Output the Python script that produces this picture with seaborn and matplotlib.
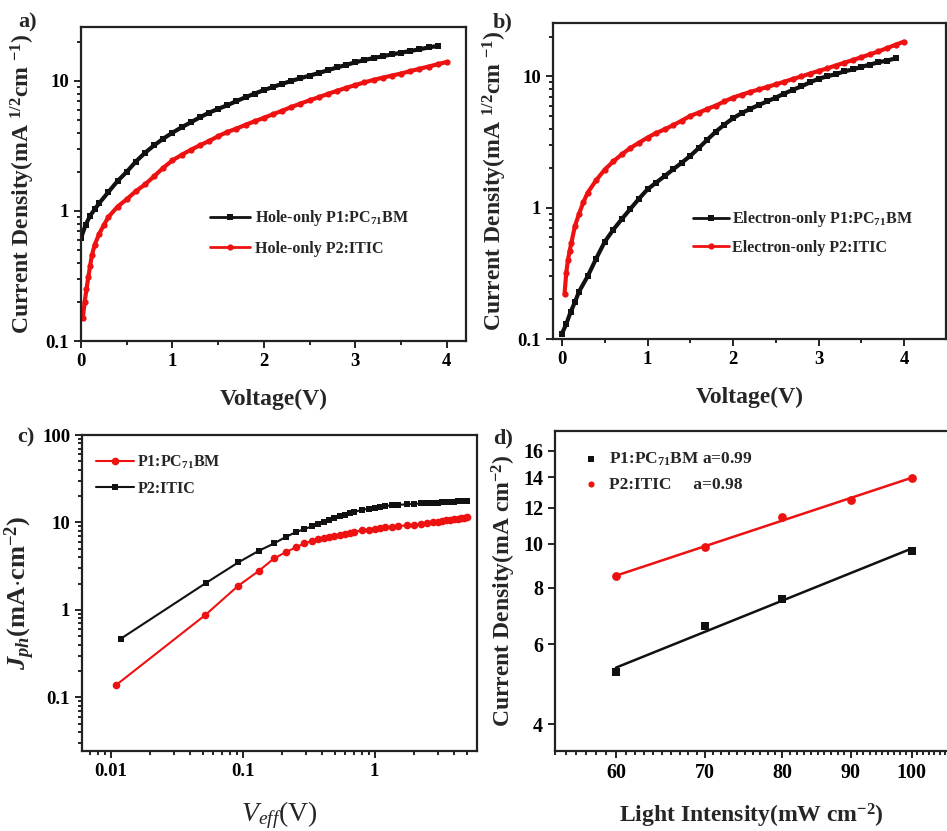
import numpy as np
import pandas as pd
import matplotlib
matplotlib.use("Agg")
import matplotlib.pyplot as plt
import seaborn as sns
from matplotlib.ticker import FixedLocator, NullFormatter, FuncFormatter, LogLocator, NullLocator

# ---------------- data ----------------
# (a) hole-only
a_v_p1 = [0, 0.05, 0.1, 0.15, 0.2, 0.3, 0.4, 0.5, 0.6, 0.7, 0.8, 0.9, 1.0, 1.1, 1.2, 1.3, 1.4,
          1.5, 1.6, 1.7, 1.8, 1.9, 2.0, 2.1, 2.2, 2.3, 2.4, 2.5, 2.6, 2.7, 2.8, 2.9, 3.0, 3.1,
          3.2, 3.3, 3.4, 3.5, 3.6, 3.7, 3.8, 3.9]
a_j_p1 = [0.62, 0.78, 0.92, 1.03, 1.15, 1.4, 1.7, 2.0, 2.4, 2.8, 3.2, 3.6, 4.0, 4.4, 4.8, 5.25,
          5.7, 6.1, 6.5, 7.0, 7.5, 8.0, 8.5, 9.0, 9.5, 10.0, 10.5, 11.0, 11.5, 12.1, 12.7, 13.3,
          13.9, 14.5, 15.0, 15.5, 16.0, 16.5, 17.0, 17.5, 18.1, 18.6]
a_v_p2 = [0.02, 0.04, 0.06, 0.08, 0.1, 0.12, 0.15, 0.2, 0.25, 0.3, 0.4, 0.5, 0.6, 0.7, 0.8, 0.9,
          1.0, 1.1, 1.2, 1.3, 1.4, 1.5, 1.6, 1.7, 1.8, 1.9, 2.0, 2.1, 2.2, 2.3, 2.4, 2.5, 2.6,
          2.7, 2.8, 2.9, 3.0, 3.1, 3.2, 3.3, 3.4, 3.5, 3.6, 3.7, 3.8, 3.9, 4.0]
a_j_p2 = [0.15, 0.2, 0.25, 0.31, 0.38, 0.46, 0.55, 0.67, 0.78, 0.9, 1.08, 1.23, 1.42, 1.6, 1.85,
          2.15, 2.45, 2.7, 2.95, 3.2, 3.45, 3.76, 4.05, 4.3, 4.6, 4.9, 5.2, 5.55, 5.9, 6.3, 6.7,
          7.1, 7.5, 7.95, 8.4, 8.85, 9.3, 9.75, 10.2, 10.6, 11.0, 11.4, 11.9, 12.4, 12.9, 13.45, 14.0]

# (b) electron-only
b_v_p1 = [0, 0.05, 0.1, 0.15, 0.2, 0.3, 0.4, 0.5, 0.6, 0.7, 0.8, 0.9, 1.0, 1.1, 1.2, 1.3, 1.4,
          1.5, 1.6, 1.7, 1.8, 1.9, 2.0, 2.1, 2.2, 2.3, 2.4, 2.5, 2.6, 2.7, 2.8, 2.9, 3.0, 3.1,
          3.2, 3.3, 3.4, 3.5, 3.6, 3.7, 3.8, 3.9]
b_j_p1 = [0.11, 0.13, 0.16, 0.19, 0.23, 0.3, 0.41, 0.55, 0.68, 0.82, 0.98, 1.17, 1.38, 1.55,
          1.74, 1.96, 2.2, 2.48, 2.85, 3.3, 3.8, 4.3, 4.8, 5.25, 5.65, 6.05, 6.45, 6.9, 7.4,
          7.9, 8.4, 9.0, 9.6, 10.0, 10.4, 10.9, 11.3, 11.8, 12.3, 12.8, 13.2, 13.7]
b_v_p2 = [0.03, 0.05, 0.07, 0.09, 0.11, 0.15, 0.2, 0.25, 0.3, 0.4, 0.5, 0.6, 0.7, 0.8, 0.9, 1.0,
          1.1, 1.2, 1.3, 1.4, 1.5, 1.6, 1.7, 1.8, 1.9, 2.0, 2.1, 2.2, 2.3, 2.4, 2.5, 2.6, 2.7,
          2.8, 2.9, 3.0, 3.1, 3.2, 3.3, 3.4, 3.5, 3.6, 3.7, 3.8, 3.9, 4.0]
b_j_p2 = [0.22, 0.32, 0.40, 0.47, 0.54, 0.72, 0.9, 1.1, 1.3, 1.62, 1.95, 2.25, 2.55, 2.85, 3.12,
          3.42, 3.7, 3.95, 4.25, 4.6, 5.0, 5.3, 5.65, 6.0, 6.45, 6.9, 7.25, 7.6, 7.95, 8.3, 8.7,
          9.1, 9.55, 10.0, 10.5, 11.0, 11.5, 12.1, 12.7, 13.3, 14.0, 14.7, 15.5, 16.4, 17.4, 18.4]

# (c) photocurrent vs effective voltage
c_v_p1 = [0.011, 0.052, 0.092, 0.133, 0.173, 0.213, 0.253, 0.293, 0.333, 0.373, 0.413, 0.453,
          0.493, 0.55, 0.6, 0.65, 0.7, 0.8, 0.9, 1.0, 1.1, 1.2, 1.35, 1.5, 1.75, 2.0, 2.25,
          2.5, 2.75, 3.0, 3.25, 3.5, 3.75, 4.0, 4.25, 4.5, 4.75, 5.0]
c_j_p1 = [0.138, 0.87, 1.87, 2.8, 3.88, 4.58, 5.18, 5.75, 6.1, 6.4, 6.65, 6.85, 7.0, 7.2, 7.4,
          7.6, 7.8, 8.1, 8.3, 8.5, 8.65, 8.8, 8.95, 9.1, 9.25, 9.4, 9.6, 9.8, 10.0, 10.2, 10.4,
          10.6, 10.75, 10.9, 11.05, 11.2, 11.3, 11.4]
c_v_p2 = [0.012, 0.053, 0.093, 0.133, 0.173, 0.213, 0.253, 0.293, 0.333, 0.373, 0.413, 0.453,
          0.493, 0.55, 0.6, 0.65, 0.7, 0.8, 0.9, 1.0, 1.1, 1.2, 1.35, 1.5, 1.75, 2.0, 2.25,
          2.5, 2.75, 3.0, 3.25, 3.5, 3.75, 4.0, 4.25, 4.5, 4.75, 5.0]
c_j_p2 = [0.47, 2.04, 3.5, 4.75, 5.75, 6.84, 7.74, 8.38, 9.0, 9.55, 10.2, 10.7, 11.2, 11.8, 12.3,
          12.8, 13.2, 13.9, 14.4, 14.8, 15.1, 15.4, 15.7, 15.9, 16.1, 16.3, 16.5, 16.6, 16.75,
          16.9, 17.0, 17.1, 17.2, 17.3, 17.4, 17.5, 17.55, 17.6]

# (d) Jsc vs light intensity
d_p1_int = [60, 70, 80, 100]
d_p1_j = [5.2, 6.59, 7.54, 9.62]
d_p2_int = [60, 70, 80, 90, 100]
d_p2_j = [8.47, 9.84, 11.43, 12.45, 13.97]

a_ticks_y = [0.1, 1, 10]
c_ticks_x = [0.01, 0.1, 1]
c_ticks_y = [0.1, 1, 10, 100]
d_ticks_x = [60, 70, 80, 90, 100]
d_ticks_y = [4, 6, 8, 10, 12, 14, 16]

# ---------------- style ----------------
sns.set_style("ticks")
plt.rcParams.update({
    "font.family": ["Liberation Serif", "DejaVu Serif"],
    "font.weight": "bold",
    "axes.labelweight": "bold",
    "mathtext.fontset": "custom",
    "mathtext.rm": "Liberation Serif:bold",
    "mathtext.bf": "Liberation Serif:bold",
    "mathtext.it": "Liberation Serif:italic:bold",
    "mathtext.sf": "Liberation Serif:style=italic:weight=normal",
    "mathtext.default": "rm",
    "axes.edgecolor": "#222222",
    "axes.linewidth": 1.6,
    "xtick.color": "#222222",
    "ytick.color": "#222222",
    "xtick.labelcolor": "black",
    "ytick.labelcolor": "black",
})

RED = "#ee1111"
BLK = "#111111"
TICK_FS = 13.5
LAB_FS = 17
LEG_FS = 11.5

fig = plt.figure(figsize=(9.47, 8.31), dpi=100)
W, H = 947.0, 831.0


def add_ax(l, t, r, b):
    return fig.add_axes([l / W, 1 - b / H, (r - l) / W, (b - t) / H])


axA = add_ax(81, 27, 466, 341)
axB = add_ax(553, 23, 946, 339)
axC = add_ax(82, 435, 477, 751)
axD = add_ax(555, 431, 948, 751)

fmt = FuncFormatter(lambda v, p: f"{v:g}")


def style_ax(ax):
    ax.tick_params(which="both", direction="out", top=False, right=False,
                   labelsize=TICK_FS, width=1.4)
    ax.tick_params(which="major", length=5)
    ax.tick_params(which="minor", length=3)
    for lab in ax.get_xticklabels() + ax.get_yticklabels():
        lab.set_fontweight("bold")
    for s in ax.spines.values():
        s.set_visible(True)


def curve(ax, x, y, color, marker, label, ms=4, lw=2.0):
    df = pd.DataFrame({"x": x, "y": y})
    sns.lineplot(data=df, x="x", y="y", ax=ax, color=color, marker=marker,
                 markersize=ms, markeredgewidth=0, linewidth=lw, label=label,
                 estimator=None, sort=False)


# ---- (a)
axA.set_yscale("log")
curve(axA, a_v_p1, a_j_p1, BLK, "s", r"Hole-only P1:PC$_{71}$BM", ms=4, lw=3)
curve(axA, a_v_p2, a_j_p2, RED, "o", r"Hole-only P2:ITIC", ms=4.5, lw=3)
axA.set_xlim(0, 4.21)
axA.set_ylim(0.1, 26)
axA.xaxis.set_major_locator(FixedLocator([0, 1, 2, 3, 4]))
axA.xaxis.set_minor_locator(FixedLocator([0.5, 1.5, 2.5, 3.5]))
axA.yaxis.set_major_locator(FixedLocator(a_ticks_y))
axA.yaxis.set_minor_locator(LogLocator(subs=np.arange(2, 10)))
axA.yaxis.set_major_formatter(fmt)
axA.yaxis.set_minor_formatter(NullFormatter())
axA.set_xlabel("Voltage(V)", fontsize=LAB_FS, labelpad=14)
axA.set_ylabel(r"Current Density(mA $^{1/2}$cm $^{-1}$)", fontsize=LAB_FS, labelpad=6)
style_ax(axA)
legA = axA.legend(loc="center left", bbox_to_anchor=(0.335, 0.345), frameon=False,
                  fontsize=LEG_FS, handlelength=2.5, handletextpad=0.3, labelspacing=0.8,
                  borderpad=0, borderaxespad=0)
for h in legA.legend_handles:
    h.set_linewidth(2)

# ---- (b)
axB.set_yscale("log")
curve(axB, b_v_p1, b_j_p1, BLK, "s", r"Electron-only P1:PC$_{71}$BM", ms=4, lw=3)
curve(axB, b_v_p2, b_j_p2, RED, "o", r"Electron-only P2:ITIC", ms=4.5, lw=3)
axB.set_xlim(-0.105, 4.49)
axB.set_ylim(0.1, 25.5)
axB.xaxis.set_major_locator(FixedLocator([0, 1, 2, 3, 4]))
axB.xaxis.set_minor_locator(FixedLocator([0.5, 1.5, 2.5, 3.5]))
axB.yaxis.set_major_locator(FixedLocator(a_ticks_y))
axB.yaxis.set_minor_locator(LogLocator(subs=np.arange(2, 10)))
axB.yaxis.set_major_formatter(fmt)
axB.yaxis.set_minor_formatter(NullFormatter())
axB.set_xlabel("Voltage(V)", fontsize=LAB_FS, labelpad=14)
axB.set_ylabel(r"Current Density(mA $^{1/2}$cm $^{-1}$)", fontsize=LAB_FS, labelpad=6)
style_ax(axB)
legB = axB.legend(loc="center left", bbox_to_anchor=(0.355, 0.337), frameon=False,
                  fontsize=LEG_FS, handlelength=2.3, handletextpad=0.2, labelspacing=0.65,
                  borderpad=0, borderaxespad=0)
for h in legB.legend_handles:
    h.set_linewidth(2)

# ---- (c)
axC.set_xscale("log")
axC.set_yscale("log")
curve(axC, c_v_p1, c_j_p1, RED, "o", r"P1:PC$_{71}$BM", ms=5.5, lw=1.5)
curve(axC, c_v_p2, c_j_p2, BLK, "s", r"P2:ITIC", ms=5, lw=1.5)
axC.set_xlim(0.00607, 5.96)
axC.set_ylim(0.0243, 100)
axC.xaxis.set_major_locator(FixedLocator(c_ticks_x))
axC.xaxis.set_minor_locator(LogLocator(subs=np.arange(2, 10)))
axC.xaxis.set_major_formatter(fmt)
axC.xaxis.set_minor_formatter(NullFormatter())
axC.yaxis.set_major_locator(FixedLocator(c_ticks_y))
axC.yaxis.set_minor_locator(LogLocator(subs=np.arange(2, 10)))
axC.yaxis.set_major_formatter(fmt)
axC.yaxis.set_minor_formatter(NullFormatter())
axC.set_xlabel(r"$\mathsf{V}_{\mathsf{eff}}$(V)", fontsize=20, fontweight="normal", labelpad=14)
axC.set_ylabel(r"$\mathit{J}_{\mathit{ph}}$(mA$\cdot$cm$^{-2}$)", fontsize=19, labelpad=4)
style_ax(axC)
axC.legend(loc="center left", bbox_to_anchor=(0.035, 0.873), frameon=False,
           fontsize=LEG_FS, handlelength=2.4, handletextpad=0.2, labelspacing=0.6,
           borderpad=0, borderaxespad=0)

# ---- (d)
axD.set_xscale("log")
axD.set_yscale("log")
sns.scatterplot(x=d_p1_int, y=d_p1_j, ax=axD, color=BLK, marker="s", s=34, linewidth=0,
                label=r"P1:PC$_{71}$BM a=0.99")
sns.scatterplot(x=d_p2_int, y=d_p2_j, ax=axD, color=RED, marker="o", s=40, linewidth=0,
                label=r"P2:ITIC     a=0.98")
for xs, ys, col in [(d_p1_int, d_p1_j, BLK), (d_p2_int, d_p2_j, RED)]:
    k, b0 = np.polyfit(np.log10(xs), np.log10(ys), 1)
    xf = np.array([min(xs), max(xs)])
    sns.lineplot(x=xf, y=10 ** (b0 + k * np.log10(xf)), ax=axD, color=col, linewidth=1.8,
                 legend=False)
axD.set_xlim(54.0, 106.5)
axD.set_ylim(3.49, 17.7)
axD.xaxis.set_major_locator(FixedLocator(d_ticks_x))
axD.xaxis.set_minor_locator(FixedLocator([v for v in range(53, 108) if v % 10 != 0]))
axD.xaxis.set_major_formatter(fmt)
axD.xaxis.set_minor_formatter(NullFormatter())
axD.yaxis.set_major_locator(FixedLocator(d_ticks_y))
axD.yaxis.set_minor_locator(NullLocator())
axD.yaxis.set_major_formatter(fmt)
axD.set_xlabel(r"Light Intensity(mW cm$^{-2}$)", fontsize=LAB_FS, labelpad=14)
axD.set_ylabel(r"Current Density(mA cm$^{-2}$)", fontsize=LAB_FS, labelpad=4)
style_ax(axD)
axD.tick_params(axis="y", labelsize=14.5)
axD.tick_params(axis="x", labelsize=14.5)
axD.legend(loc="center left", bbox_to_anchor=(0.075, 0.873), frameon=False,
           fontsize=LEG_FS + 1, handlelength=0.8, handletextpad=0.6, labelspacing=0.5,
           borderpad=0, borderaxespad=0, markerscale=0.7)

# panel letters
for txt, (px, py) in {"a)": (18, 22), "b)": (493, 22), "c)": (17, 437), "d)": (493, 438)}.items():
    fig.text(px / W, 1 - py / H, txt, fontsize=16, fontweight="bold", va="center", ha="left")

fig.savefig("out.png", dpi=100)
